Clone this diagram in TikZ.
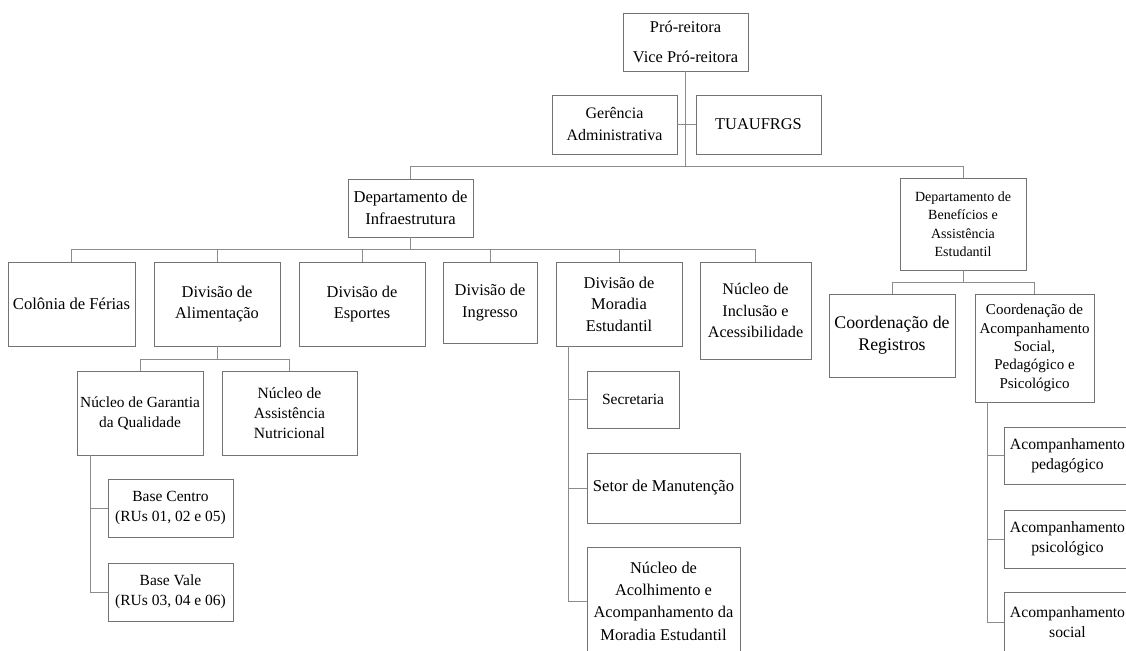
\documentclass[tikz,border=0pt]{standalone}
\usepackage{fontspec}
\setmainfont{Liberation Serif}
\newcommand\fsz[2]{\fontsize{#1}{#2}\selectfont}
\tikzset{
  orgbox/.style={draw=black!55, line width=0.9pt, inner sep=0pt, align=center, font=\fsz{16.4}{21.6}},
  link/.style={draw=black!45, line width=1pt},
}
\begin{document}
\begin{tikzpicture}[x=1pt,y=-1pt]
\clip (0,0) rectangle (1126,650);
% top
\node[orgbox, minimum width=125, minimum height=58, font=\fsz{16.4}{30}] (pro) at (685.5,42) {Pró-reitora\\Vice Pró-reitora};
\node[orgbox, minimum width=125, minimum height=59, font=\fsz{16}{22}] (ger) at (614.5,124.5) {Gerência\\Administrativa};
\node[orgbox, minimum width=125, minimum height=59] (tua) at (758.5,124.5) {TUAUFRGS};
% departments
\node[orgbox, minimum width=125, minimum height=58, font=\fsz{16.6}{22}] (dinf) at (410.5,208) {Departamento de\\Infraestrutura};
\node[orgbox, minimum width=126, minimum height=92, font=\fsz{14}{18.5}] (dben) at (963,224) {Departamento de\\Benefícios e\\Assistência\\Estudantil};
% divisions
\node[orgbox, minimum width=127, minimum height=84, font=\fsz{16.6}{21.6}] (col) at (71.5,304) {Colônia de Férias};
\node[orgbox, minimum width=126, minimum height=84] (ali) at (217,304) {Divisão de\\Alimentação};
\node[orgbox, minimum width=126, minimum height=84] (esp) at (362,304) {Divisão de\\Esportes};
\node[orgbox, minimum width=94, minimum height=81] (ing) at (490,302.5) {Divisão de\\Ingresso};
\node[orgbox, minimum width=126, minimum height=84] (mor) at (619,304) {Divisão de\\Moradia\\Estudantil};
\node[orgbox, minimum width=111, minimum height=97, font=\fsz{16.2}{21.6}] (inc) at (755.5,310.5) {Núcleo de\\Inclusão e\\Acessibilidade};
\node[orgbox, minimum width=126, minimum height=83, font=\fsz{17.8}{22}] (reg) at (892,335.5) {Coordenação de\\Registros};
\node[orgbox, minimum width=119, minimum height=108, font=\fsz{15}{18.3}] (cac) at (1034.5,348) {Coordenação de\\Acompanhamento\\Social,\\Pedagógico e\\Psicológico};
% alimentação children
\node[orgbox, minimum width=126, minimum height=84, font=\fsz{15.4}{20}] (ngq) at (140,413) {Núcleo de Garantia\\da Qualidade};
\node[orgbox, minimum width=135, minimum height=84, font=\fsz{15.6}{20}] (nas) at (289.5,413) {Núcleo de\\Assistência\\Nutricional};
\node[orgbox, minimum width=125, minimum height=58, font=\fsz{15.5}{20.5}] (bce) at (170.5,508) {Base Centro\\(RUs 01, 02 e 05)};
\node[orgbox, minimum width=125, minimum height=58, font=\fsz{15.5}{20.5}] (bva) at (170.5,592) {Base Vale\\(RUs 03, 04 e 06)};
% moradia children
\node[orgbox, minimum width=92, minimum height=57, font=\fsz{15.5}{20}] (sec) at (633,399.5) {Secretaria};
\node[orgbox, minimum width=153, minimum height=70, font=\fsz{16.6}{21.6}] (sma) at (663.5,488) {Setor de Manutenção};
\node[orgbox, minimum width=153, minimum height=108, font=\fsz{16.4}{22.3}] (nac) at (663.5,601) {Núcleo de\\Acolhimento e\\Acompanhamento da\\Moradia Estudantil};
% acompanhamento children
\node[orgbox, minimum width=127, minimum height=57, font=\fsz{15.7}{20}] (aped) at (1067.5,455.5) {Acompanhamento\\pedagógico};
\node[orgbox, minimum width=127, minimum height=58, font=\fsz{15.7}{20}] (apsi) at (1067.5,539) {Acompanhamento\\psicológico};
\node[orgbox, minimum width=127, minimum height=60, font=\fsz{15.7}{20}] (asoc) at (1067.5,622) {Acompanhamento\\social};
% bus coordinates
\coordinate (busMain) at (0,166);
\coordinate (busDI) at (0,249);
\coordinate (busDB) at (0,282);
\coordinate (busAli) at (0,359);
\coordinate (spNGQ) at (90,0);
\coordinate (spMor) at (568,0);
\coordinate (spCac) at (987,0);
% connectors
\draw[link] (pro.south) -- (pro.south |- busMain);
\draw[link] (ger.east) -- (tua.west);
\draw[link] (dinf.north) -- (dinf.north |- busMain) -| (dben.north);
\foreach \c in {col,ali,esp,ing,mor,inc}
  \draw[link] (dinf.south) -- (dinf.south |- busDI) -| (\c.north);
\foreach \c in {reg,cac}
  \draw[link] (dben.south) -- (dben.south |- busDB) -| (\c.north);
\foreach \c in {ngq,nas}
  \draw[link] (ali.south) -- (ali.south |- busAli) -| (\c.north);
\foreach \c in {bce,bva}
  \draw[link] (ngq.south -| spNGQ) |- (\c.west);
\foreach \c in {sec,sma,nac}
  \draw[link] (mor.south -| spMor) |- (\c.west);
\foreach \c in {aped,apsi,asoc}
  \draw[link] (cac.south -| spCac) |- (\c.west);
\end{tikzpicture}
\end{document}
